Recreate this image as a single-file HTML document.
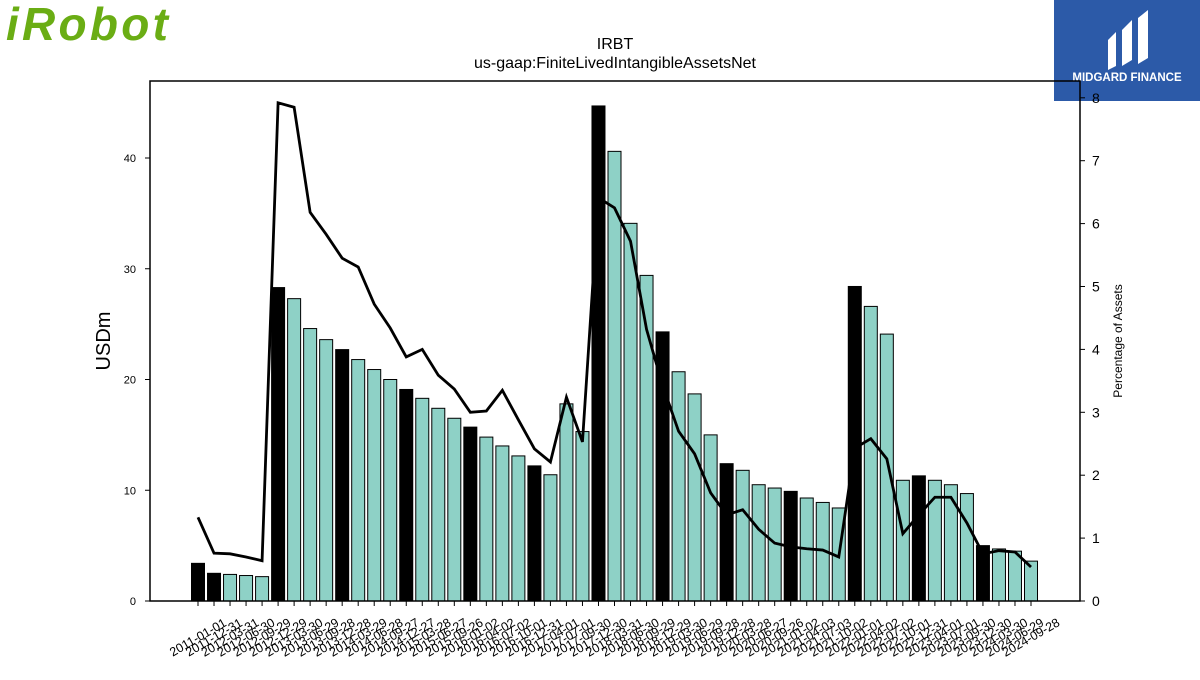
<!DOCTYPE html>
<html><head><meta charset="utf-8"><style>
body{margin:0;background:#fff;width:1200px;height:675px;overflow:hidden;font-family:"Liberation Sans","DejaVu Sans",sans-serif}
</style></head><body>
<svg id="c" width="1200" height="675" xmlns="http://www.w3.org/2000/svg">
<text x="6" y="40" font-size="46" font-weight="bold" font-style="italic" fill="#6aad14" font-family="Liberation Sans, sans-serif" textLength="162">iRobot</text>
<g>
<rect x="1054" y="0" width="146" height="101" fill="#2c5aa8"/>
<path d="M1108 70 L1108 40 L1116 32 L1116 66 Z M1122 66 L1122 30 L1132 20 L1132 60 Z M1138 64 L1138 18 L1148 10 L1148 58 Z" fill="#fff"/>
<text x="1127" y="81" font-size="11.5" font-weight="bold" fill="#fff" text-anchor="middle">MIDGARD FINANCE</text>
</g>
<text x="615" y="49" font-size="16" text-anchor="middle">IRBT</text>
<text x="615" y="68" font-size="16" text-anchor="middle">us-gaap:FiniteLivedIntangibleAssetsNet</text>
<g id="plot"></g>
<rect x="150" y="81" width="930" height="520" fill="none" stroke="#000" stroke-width="1.5"/>
<text transform="translate(110,341) rotate(-90)" font-size="20" text-anchor="middle">USDm</text>
<text transform="translate(1122,341) rotate(-90)" font-size="12" text-anchor="middle">Percentage of Assets</text>
</svg>
<script>
const categories=["2011-01-01","2011-12-31","2012-03-31","2012-06-30","2012-09-29","2012-12-29","2013-03-30","2013-06-29","2013-09-28","2013-12-28","2014-03-29","2014-06-28","2014-09-27","2014-12-27","2015-03-28","2015-06-27","2015-09-26","2016-01-02","2016-04-02","2016-07-02","2016-10-01","2016-12-31","2017-04-01","2017-07-01","2017-09-30","2017-12-30","2018-03-31","2018-06-30","2018-09-29","2018-12-29","2019-03-30","2019-06-29","2019-09-28","2019-12-28","2020-03-28","2020-06-27","2020-09-26","2021-01-02","2021-04-03","2021-07-03","2021-10-02","2022-01-01","2022-04-02","2022-07-02","2022-10-01","2022-12-31","2023-04-01","2023-07-01","2023-09-30","2023-12-30","2024-03-30","2024-06-29","2024-09-28"];
const values=[3.4,2.5,2.4,2.3,2.2,28.3,27.3,24.6,23.6,22.7,21.8,20.9,20.0,19.1,18.3,17.4,16.5,15.7,14.8,14.0,13.1,12.2,11.4,17.8,15.3,44.7,40.6,34.1,29.4,24.3,20.7,18.7,15.0,12.4,11.8,10.5,10.2,9.9,9.3,8.9,8.4,28.4,26.6,24.1,10.9,11.3,10.9,10.5,9.7,5.0,4.7,4.5,3.6];
const pct=[1.33,0.76,0.75,0.70,0.64,7.92,7.85,6.18,5.83,5.45,5.31,4.72,4.34,3.88,4.0,3.59,3.37,3.0,3.02,3.35,2.88,2.42,2.21,3.24,2.53,6.41,6.25,5.72,4.32,3.43,2.7,2.34,1.72,1.37,1.45,1.14,0.92,0.86,0.83,0.81,0.70,2.43,2.58,2.26,1.07,1.37,1.65,1.65,1.24,0.75,0.80,0.78,0.54];
const blackIdx=[0,1,5,9,13,17,21,25,29,33,37,41,45,49];
const leftTicks=[0,10,20,30,40];
const rightTicks=[0,1,2,3,4,5,6,7,8];
const NS="http://www.w3.org/2000/svg";
const g=document.getElementById('plot');
const x=i=>198+i*(1031-198)/(categories.length-1);
const y=v=>601-v*11.075;
const y2=v=>601-v*62.9;
function mk(t,a){const e=document.createElementNS(NS,t);for(const k in a)e.setAttribute(k,a[k]);g.appendChild(e);return e;}
values.forEach((v,i)=>{
 const r=mk('rect',{x:x(i)-6.5,y:y(v),width:13,height:601-y(v),fill:blackIdx.includes(i)?'#000':'#8ed1c6',stroke:'#000','stroke-width':1});
 
 
 const t=mk('line',{x1:x(i),x2:x(i),y1:601,y2:606,stroke:'#000'});
 
 
 const l=mk('text',{transform:`translate(${x(i)+2},${641}) rotate(-30)`,'font-size':12.5,'text-anchor':'middle'});
 l.textContent=categories[i];
 
 
});
const p=mk('polyline',{points:pct.map((v,i)=>x(i)+','+y2(v)).join(' '),fill:'none',stroke:'#000','stroke-width':2.8});


leftTicks.forEach(v=>{
 mk('line',{x1:145,x2:150,y1:y(v),y2:y(v),stroke:'#000'});
 const t=mk('text',{x:136,y:y(v)+4,'font-size':11,'text-anchor':'end'});t.textContent=v;
 
 
});
rightTicks.forEach(v=>{
 mk('line',{x1:1080,x2:1085,y1:y2(v),y2:y2(v),stroke:'#000'});
 const t=mk('text',{x:1092,y:y2(v)+5,'font-size':14});t.textContent=v;
 
 
});
</script>
</body></html>
